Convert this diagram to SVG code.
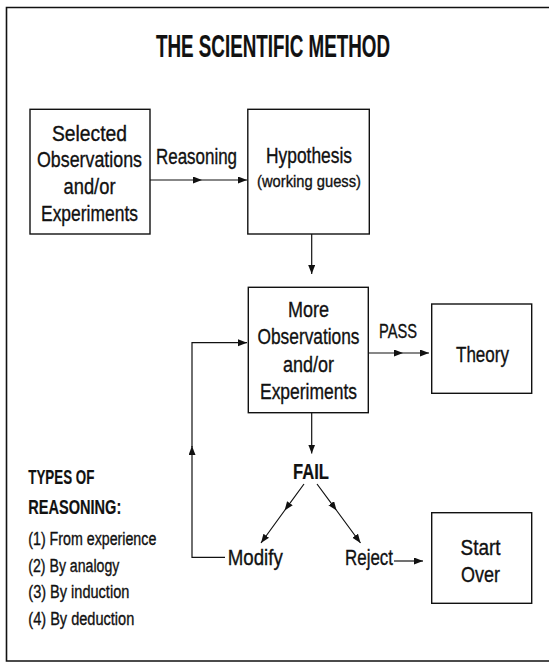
<svg xmlns="http://www.w3.org/2000/svg" width="549" height="664" viewBox="0 0 549 664">
<style>
text{font-family:"Liberation Sans Narrow","Liberation Sans",Arial,sans-serif;fill:#111;stroke:#111;stroke-width:0.35;}
.t{font-size:22px;text-anchor:middle;}
.s{font-size:17px;text-anchor:middle;}
.b{font-weight:bold;stroke-width:0.2;}
.l{font-size:18px;}
.box{fill:#fff;stroke:#111;stroke-width:1.4;}
.c{fill:none;stroke:#111;stroke-width:1.2;}
.frame{fill:none;stroke:#111;stroke-width:1.6;}
</style>
<defs>
<marker id="ah" markerUnits="userSpaceOnUse" markerWidth="10" markerHeight="8" refX="9" refY="3.5" orient="auto">
<path d="M0,0 L9,3.5 L0,7 Z" fill="#111"/>
</marker>
</defs>
<rect width="549" height="664" fill="#fff"/>
<path class="frame" d="M549,7.5 H6.5 V661 H549"/>
<g id="title">
<text class="b" x="273" y="56.5" font-size="31" text-anchor="middle" textLength="234" lengthAdjust="spacingAndGlyphs">THE SCIENTIFIC METHOD</text>
</g>
<g id="connectors">
<path class="c" d="M149.5,180 L202,180 L247,180" marker-mid="url(#ah)" marker-end="url(#ah)"/>
<text class="t" x="196.5" y="164" textLength="81" lengthAdjust="spacingAndGlyphs">Reasoning</text>
<path class="c" d="M311.7,234 V274" marker-end="url(#ah)"/>
<path class="c" d="M368.3,353 L403,353 L429,353" marker-mid="url(#ah)" marker-end="url(#ah)"/>
<text x="398" y="338" font-size="20" text-anchor="middle" textLength="38" lengthAdjust="spacingAndGlyphs">PASS</text>
<path class="c" d="M311.7,412.7 V453.5" marker-end="url(#ah)"/>
<path class="c" d="M304,484 L284.6,510.5 L261,543" marker-mid="url(#ah)" marker-end="url(#ah)"/>
<path class="c" d="M317,484 L336.6,510.5 L360.5,543" marker-mid="url(#ah)" marker-end="url(#ah)"/>
<path class="c" d="M225,557.3 H192 V446" marker-end="url(#ah)"/>
<path class="c" d="M192,447 V342.7 H247" marker-end="url(#ah)"/>
<path class="c" d="M394,561 H423" marker-end="url(#ah)"/>
</g>
<g id="selected-observations">
<rect class="box" x="30" y="109.3" width="120" height="124.7"/>
<text class="t" x="89.5" y="140.5" textLength="75" lengthAdjust="spacingAndGlyphs">Selected</text>
<text class="t" x="89.5" y="167" textLength="105" lengthAdjust="spacingAndGlyphs">Observations</text>
<text class="t" x="89.5" y="194" textLength="52" lengthAdjust="spacingAndGlyphs">and/or</text>
<text class="t" x="89.5" y="220.5" textLength="97" lengthAdjust="spacingAndGlyphs">Experiments</text>
</g>
<g id="hypothesis">
<rect class="box" x="247.8" y="109.3" width="121.5" height="124.7"/>
<text class="t" x="309" y="162.7" textLength="86" lengthAdjust="spacingAndGlyphs">Hypothesis</text>
<text class="s" x="309" y="186.5" textLength="104" lengthAdjust="spacingAndGlyphs">(working guess)</text>
</g>
<g id="more-observations">
<rect class="box" x="248.3" y="287.3" width="120" height="125.4"/>
<text class="t" x="308.5" y="316.5" textLength="41" lengthAdjust="spacingAndGlyphs">More</text>
<text class="t" x="308.5" y="344" textLength="102" lengthAdjust="spacingAndGlyphs">Observations</text>
<text class="t" x="308.5" y="371.5" textLength="51" lengthAdjust="spacingAndGlyphs">and/or</text>
<text class="t" x="308.5" y="399" textLength="97" lengthAdjust="spacingAndGlyphs">Experiments</text>
</g>
<g id="theory">
<rect class="box" x="431.7" y="304" width="100" height="89.3"/>
<text class="t" x="482.5" y="361.5" textLength="53" lengthAdjust="spacingAndGlyphs">Theory</text>
</g>
<g id="fail">
<text class="t b" x="311" y="479.3" textLength="36" lengthAdjust="spacingAndGlyphs">FAIL</text>
</g>
<g id="modify">
<text class="t" x="255.3" y="565" textLength="55" lengthAdjust="spacingAndGlyphs">Modify</text>
</g>
<g id="reject">
<text class="t" x="369" y="565" textLength="48" lengthAdjust="spacingAndGlyphs">Reject</text>
</g>
<g id="start-over">
<rect class="box" x="431.7" y="512.7" width="100" height="90.6"/>
<text class="t" x="480.5" y="555" textLength="40" lengthAdjust="spacingAndGlyphs">Start</text>
<text class="t" x="480.5" y="581.7" textLength="39" lengthAdjust="spacingAndGlyphs">Over</text>
</g>
<g id="types-of-reasoning">
<text class="b" x="28.3" y="484" font-size="21" textLength="66" lengthAdjust="spacingAndGlyphs">TYPES OF</text>
<text class="b" x="28.3" y="513.5" font-size="21" textLength="93" lengthAdjust="spacingAndGlyphs">REASONING:</text>
<text class="l" x="28.3" y="545" textLength="128" lengthAdjust="spacingAndGlyphs">(1) From experience</text>
<text class="l" x="28.3" y="571.5" textLength="91" lengthAdjust="spacingAndGlyphs">(2) By analogy</text>
<text class="l" x="28.3" y="598" textLength="101" lengthAdjust="spacingAndGlyphs">(3) By induction</text>
<text class="l" x="28.3" y="624.5" textLength="106" lengthAdjust="spacingAndGlyphs">(4) By deduction</text>
</g>
</svg>
